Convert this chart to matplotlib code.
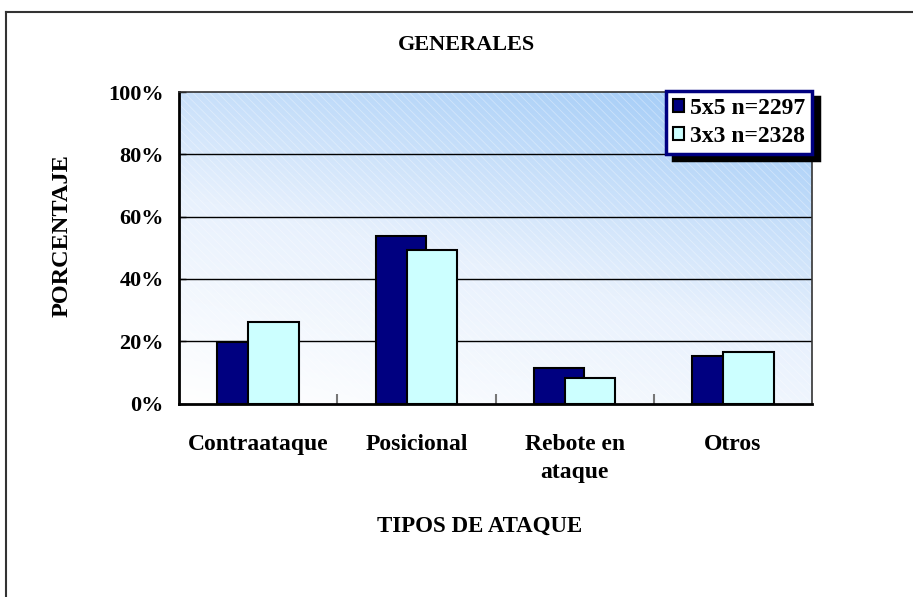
import numpy as np
import matplotlib
matplotlib.use('Agg')
import matplotlib.pyplot as plt
from matplotlib.patches import Rectangle
from matplotlib.colors import LinearSegmentedColormap

plt.rcParams['font.family'] = ['Liberation Serif', 'DejaVu Serif']
plt.rcParams['font.weight'] = 'bold'
plt.rcParams['hatch.linewidth'] = 0.6

categories = ['Contraataque', 'Posicional', 'Rebote en\nataque', 'Otros']
series_names = ['5x5 n=2297', '3x3 n=2328']
values_5x5 = [19.9, 53.8, 11.4, 15.2]
values_3x3 = [26.2, 49.3, 8.2, 16.4]
yticks = [0, 20, 40, 60, 80, 100]
ytick_labels = ['0%', '20%', '40%', '60%', '80%', '100%']

W, H = 913, 597
fig = plt.figure(figsize=(W / 100, H / 100), dpi=100)

# outer frame (right and bottom are cut off in the original)
fig.add_artist(plt.Line2D([6 / W, 6 / W], [0, 1 - 12 / H], color='#333333', lw=1.5))
fig.add_artist(plt.Line2D([6 / W, 1], [1 - 12 / H, 1 - 12 / H], color='#333333', lw=1.5))

ax = fig.add_axes([179 / W, 1 - 403.5 / H, (812 - 179) / W, (403.5 - 92) / H])

# gradient background: white bottom-left to blue top-right, faint diagonal stripes
gx, gy = np.meshgrid(np.linspace(0, 1, 300), np.linspace(0, 1, 200))
grad = np.clip(0.35 * gx + 0.75 * gy, 0, 1)
cmap = LinearSegmentedColormap.from_list('bg', ['#ffffff', '#e8f1fd', '#a9cff7'])
ax.imshow(grad, cmap=cmap, origin='lower', extent=[-0.5, 3.5, 0, 100],
          aspect='auto', zorder=0, vmin=0, vmax=1)
ax.add_patch(Rectangle((0, 0), 1, 1, transform=ax.transAxes, facecolor='none',
                       edgecolor=(1, 1, 1, 0.35), hatch='\\\\\\\\', lw=0, zorder=0.5))

x = np.arange(len(categories))
bw = 0.32
off = 0.098
ax.bar(x - off, values_5x5, bw, color='#000080', edgecolor='black', lw=1.5,
       label=series_names[0], zorder=3)
ax.bar(x + off, values_3x3, bw, color='#ccffff', edgecolor='black', lw=1.5,
       label=series_names[1], zorder=4)

ax.set_xlim(-0.5, 3.5)
ax.set_ylim(0, 100)
for v in yticks[1:-1]:
    ax.axhline(v, color='black', lw=1, zorder=1)

ax.set_yticks(yticks)
ax.set_yticklabels(ytick_labels, fontsize=16, fontweight='bold')
ax.tick_params(axis='y', direction='in', length=5, width=1, pad=11)

# category labels under each bar group, boundary tick marks in between
ax.set_xticks(x)
ax.set_xticklabels(categories, fontsize=17, fontweight='bold', linespacing=1.45,
                   va='top')
ax.tick_params(axis='x', which='major', length=0, pad=22)
ax.set_xticks([0.5, 1.5, 2.5], minor=True)
ax.tick_params(axis='x', which='minor', direction='in', length=7, width=1.5,
               color='#777777')

for s in ['left', 'bottom']:
    ax.spines[s].set_linewidth(2)
    ax.spines[s].set_color('black')
for s in ['top', 'right']:
    ax.spines[s].set_linewidth(1.2)
    ax.spines[s].set_color('#333333')

fig.text(466 / W, 1 - 45 / H, 'GENERALES', ha='center', va='center',
         fontsize=16, fontweight='bold')
fig.text(480 / W, 1 - 526 / H, 'TIPOS DE ATAQUE', ha='center', va='center',
         fontsize=16.5, fontweight='bold')
fig.text(62 / W, 1 - 236 / H, 'PORCENTAJE', ha='center', va='center',
         rotation=90, fontsize=17.5, fontweight='bold')

# legend with drop shadow
leg = ax.legend(loc='upper right', bbox_to_anchor=(1.0, 1.003), fontsize=17,
                frameon=True, fancybox=False, handlelength=0.45, handleheight=0.45,
                handletextpad=0.25, borderpad=0.3, labelspacing=0.3,
                borderaxespad=0, shadow={'color': 'black', 'alpha': 1, 'ox': 5, 'oy': -4})
leg.get_frame().set_edgecolor('#000080')
leg.get_frame().set_linewidth(2.5)
leg.set_zorder(10)

fig.savefig('out.png', dpi=100)
